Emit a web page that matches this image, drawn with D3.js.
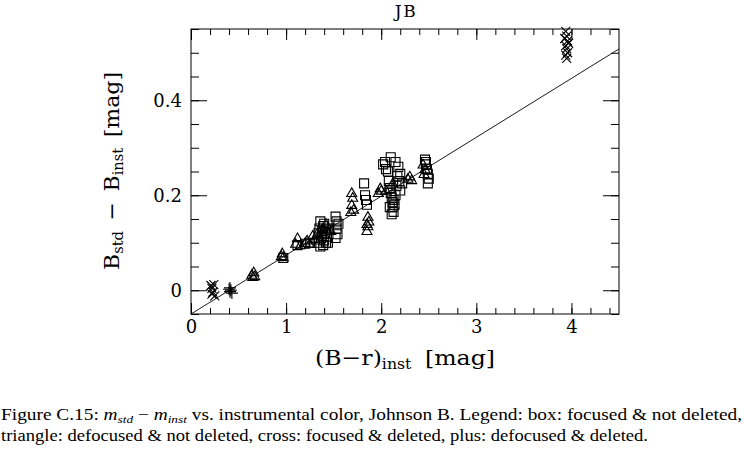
<!DOCTYPE html>
<html><head><meta charset="utf-8">
<script src="https://cdn.jsdelivr.net/npm/d3@7"></script>
<style>body{margin:0;background:#fff}svg{display:block}</style>
</head><body><svg id="c" width="744" height="459"></svg>
<script>
// ---- data ----
const xTicksMajor = [0, 1, 2, 3, 4];
const yTicksMajor = [0, 0.2, 0.4];
const boxes = [
 [0.97,0.068],[1.12,0.095],[1.20,0.098],[1.25,0.100],
 [1.33,0.10],[1.34,0.12],[1.35,0.13],[1.36,0.145],[1.37,0.11],[1.38,0.115],[1.38,0.125],[1.39,0.135],
 [1.40,0.105],[1.40,0.14],[1.41,0.12],[1.42,0.128],[1.43,0.113],[1.44,0.10],[1.45,0.13],[1.36,0.092],
 [1.39,0.095],[1.42,0.10],
 [1.52,0.155],[1.53,0.145],[1.53,0.130],[1.54,0.118],[1.52,0.110],[1.55,0.140],
 [1.82,0.225],[1.83,0.200],[1.84,0.19],[1.85,0.18],
 [2.02,0.265],[2.04,0.270],[2.05,0.255],[2.07,0.25],[2.08,0.23],[2.09,0.215],[2.10,0.205],[2.10,0.28],
 [2.11,0.195],[2.12,0.185],[2.12,0.175],[2.13,0.165],[2.14,0.18],[2.15,0.2],[2.16,0.22],[2.17,0.24],
 [2.18,0.26],[2.19,0.23],[2.20,0.21],[2.20,0.245],[2.22,0.225],[2.11,0.16],[2.13,0.19],[2.09,0.175],[2.15,0.27],
 [2.46,0.275],[2.47,0.265],[2.48,0.255],[2.49,0.245],[2.50,0.235],[2.49,0.225],[2.47,0.27]
];
const triangles = [
 [0.64,0.033],[0.66,0.038],[0.67,0.030],[0.65,0.028],
 [0.95,0.072],[0.96,0.078],[0.97,0.070],
 [1.10,0.098],[1.12,0.110],[1.15,0.095],[1.20,0.100],[1.22,0.105],[1.25,0.098],[1.30,0.108],[1.28,0.115],
 [1.33,0.120],[1.35,0.105],[1.38,0.13],[1.42,0.14],[1.47,0.125],
 [1.68,0.165],[1.69,0.180],[1.70,0.195],[1.69,0.205],[1.71,0.17],
 [1.85,0.125],[1.86,0.135],[1.87,0.145],[1.86,0.155],[1.85,0.14],
 [1.97,0.205],[1.99,0.215],[2.00,0.21],[2.05,0.21],[2.12,0.225],
 [2.28,0.235],[2.30,0.240],[2.32,0.232],
 [2.44,0.265],[2.46,0.255],[2.45,0.245]
];
const crosses = [
 [0.21,0.010],[0.22,0.004],[0.23,-0.004],[0.24,0.012],[0.25,-0.012],[0.22,-0.008],
 [3.94,0.545],[3.95,0.535],[3.96,0.525],[3.94,0.515],[3.95,0.508],[3.96,0.500],[3.94,0.495],
 [3.95,0.488],[3.97,0.52],[3.93,0.53]
];
const pluses = [[0.40,0.002],[0.41,-0.003],[0.42,0.000],[0.43,-0.006],[0.41,0.005]];
const fitLine = [[0,-0.05],[4.5,0.508]];

// ---- drawing ----
const svg = d3.select("#c");
svg.append("rect").attr("width",744).attr("height",459).attr("fill","#fff");
const L=191,R=619,T=29,B=314;
const x = d3.scaleLinear().domain([0,4.5]).range([L,R]);
const y = d3.scaleLinear().domain([-0.05,0.55]).range([B,T]);
const serif = "'DejaVu Serif', serif";
const serif2 = "'Liberation Serif', serif";

svg.append("defs").append("clipPath").attr("id","clip")
  .append("rect").attr("x",L).attr("y",T).attr("width",R-L).attr("height",B-T);

function axis(gen, tr){
  const g = svg.append("g").attr("transform",tr).call(gen);
  g.select(".domain").remove();
  g.selectAll("line").attr("stroke","#000").attr("stroke-width",1);
  g.attr("font-family",null).attr("font-size",null);
  g.selectAll("text").attr("fill","#000").style("font-family",serif).style("font-size","18px");
  return g;
}
const xMinor = d3.range(0,4.5001,0.2).map(v=>+v.toFixed(2));
const yMinor = d3.range(-0.05,0.5501,0.05).map(v=>+v.toFixed(2));
axis(d3.axisBottom(x).tickValues(xMinor).tickSize(-6).tickFormat(""), `translate(0,${B})`);
axis(d3.axisBottom(x).tickValues(xTicksMajor).tickSize(-11).tickPadding(6).tickFormat(d3.format("d")), `translate(0,${B})`);
axis(d3.axisTop(x).tickValues(xMinor).tickSize(-6).tickFormat(""), `translate(0,${T})`);
axis(d3.axisTop(x).tickValues(xTicksMajor).tickSize(-11).tickFormat(""), `translate(0,${T})`);
axis(d3.axisLeft(y).tickValues(yMinor).tickSize(-8).tickFormat(""), `translate(${L},0)`);
axis(d3.axisLeft(y).tickValues(yTicksMajor).tickSize(-16).tickPadding(9).tickFormat(d=>d===0?"0":d3.format(".1f")(d)), `translate(${L},0)`);
axis(d3.axisRight(y).tickValues(yMinor).tickSize(-8).tickFormat(""), `translate(${R},0)`);
axis(d3.axisRight(y).tickValues(yTicksMajor).tickSize(-16).tickFormat(""), `translate(${R},0)`);

svg.append("rect").attr("x",L).attr("y",T).attr("width",R-L).attr("height",B-T)
  .attr("fill","none").attr("stroke","#000").attr("stroke-width",1);

svg.append("path").attr("clip-path","url(#clip)")
  .attr("d", d3.line().x(d=>x(d[0])).y(d=>y(d[1]))(fitLine))
  .attr("fill","none").attr("stroke","#000").attr("stroke-width",0.9);

const s = 4.5;
const shapes = {
  box: `M${-s},${-s}H${s}V${s}H${-s}Z`,
  tri: `M0,${-s-0.5}L${s+0.5},${s*0.8}H${-s-0.5}Z`,
  cross: `M${-s},${-s}L${s},${s}M${-s},${s}L${s},${-s}`,
  plus: `M${-s-1.5},0H${s+1.5}M0,${-s-1.5}V${s+1.5}`
};
const marks = svg.append("g").attr("fill","none").attr("stroke","#000").attr("stroke-width",1.1);
function draw(data, shape){
  marks.selectAll(null).data(data).enter().append("path")
    .attr("transform",d=>`translate(${x(d[0])},${y(d[1])})`)
    .attr("d",shapes[shape]);
}
draw(boxes,"box"); draw(triangles,"tri"); draw(crosses,"cross"); draw(pluses,"plus");

// title
svg.append("text").attr("x",406).attr("y",17).attr("text-anchor","middle")
  .style("font-family",serif).style("font-size","17px").attr("letter-spacing",1.5).text("JB");

// x label
const xl = svg.append("text").attr("x",315).attr("y",365)
  .style("font-family",serif).style("font-size","21px")
  .attr("textLength",180).attr("lengthAdjust","spacingAndGlyphs");
xl.append("tspan").text("(B\u2212r)");
xl.append("tspan").style("font-size","14px").attr("dy",4).text("inst");
xl.append("tspan").attr("dy",-4).attr("dx",12).text("[mag]");

// y label
const yl = svg.append("text").attr("transform","translate(119,270) rotate(-90)")
  .style("font-family",serif).style("font-size","21px")
  .attr("textLength",198).attr("lengthAdjust","spacingAndGlyphs");
yl.append("tspan").text("B");
yl.append("tspan").style("font-size","14px").attr("dy",4).text("std");
yl.append("tspan").attr("dy",-4).attr("dx",10).text("\u2212");
yl.append("tspan").attr("dx",10).text("B");
yl.append("tspan").style("font-size","14px").attr("dy",4).text("inst");
yl.append("tspan").attr("dy",-4).attr("dx",10).text("[mag]");

// caption
const c1 = svg.append("text").attr("x",1).attr("y",420).style("font-family",serif2).style("font-size","16px")
  .attr("textLength",741).attr("lengthAdjust","spacingAndGlyphs");
c1.append("tspan").text("Figure C.15: ");
c1.append("tspan").attr("font-style","italic").text("m");
c1.append("tspan").attr("font-style","italic").style("font-size","11px").attr("dy",3).text("std");
c1.append("tspan").attr("dy",-3).text(" \u2212 ");
c1.append("tspan").attr("font-style","italic").text("m");
c1.append("tspan").attr("font-style","italic").style("font-size","11px").attr("dy",3).text("inst");
c1.append("tspan").attr("dy",-3).text(" vs. instrumental color, Johnson B. Legend: box: focused & not deleted,");
svg.append("text").attr("x",1).attr("y",441).style("font-family",serif2).style("font-size","16px")
  .attr("textLength",647).attr("lengthAdjust","spacingAndGlyphs")
  .text("triangle: defocused & not deleted, cross: focused & deleted, plus: defocused & deleted.");
</script></body></html>
